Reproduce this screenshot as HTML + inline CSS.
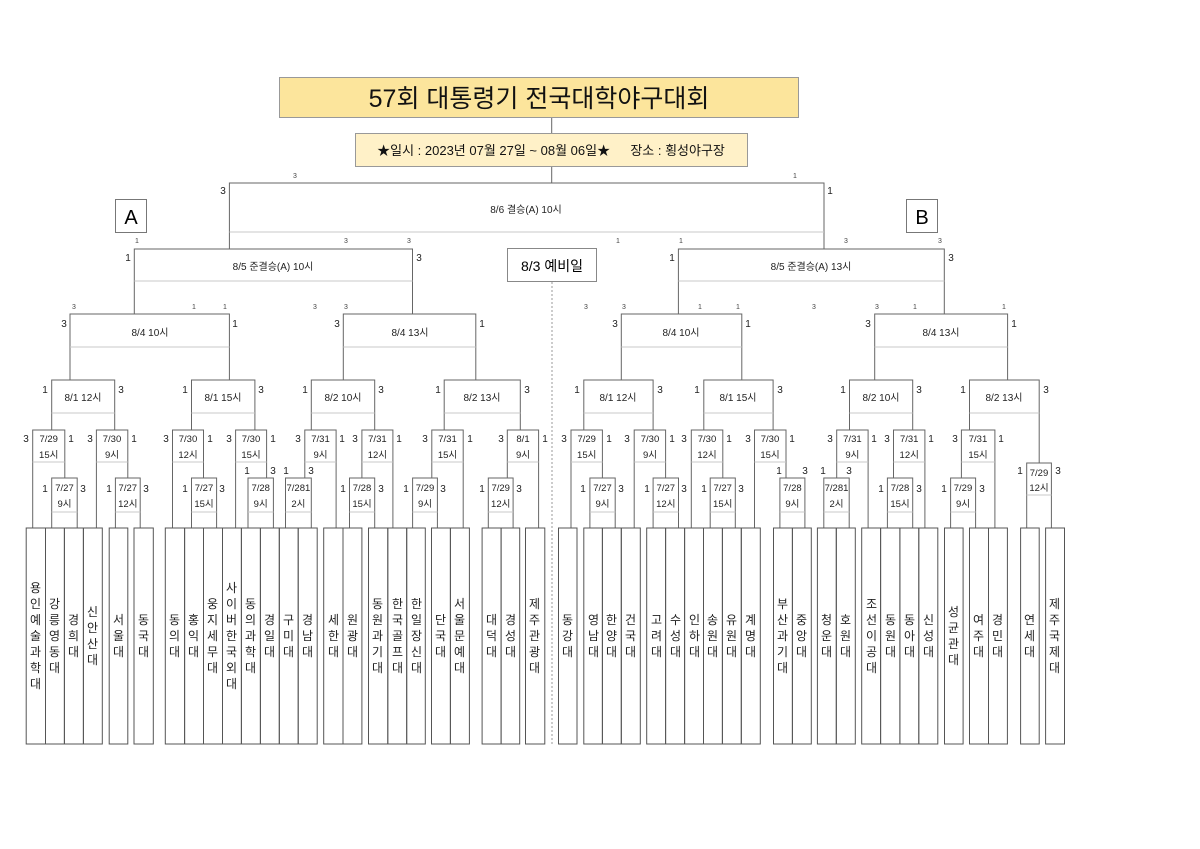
<!DOCTYPE html>
<html><head><meta charset="utf-8"><style>
html,body{margin:0;padding:0;background:#fff;}
#w{position:relative;width:1200px;height:849px;overflow:hidden;font-family:"Liberation Sans","Noto Sans CJK KR",sans-serif;}
svg{position:absolute;left:0;top:0;}
.t{position:absolute;top:528px;height:216px;display:flex;align-items:center;justify-content:center;text-align:center;font-size:12px;line-height:16px;color:#222;font-family:"Liberation Sans","Noto Sans CJK KR",sans-serif;}
</style></head><body><div id="w">
<svg width="1200" height="849" font-family="Liberation Sans, Noto Sans CJK KR, sans-serif">
<g fill="none" stroke="#666" stroke-width="1">
<line x1="551.7" y1="117" x2="551.7" y2="133"/><line x1="551.7" y1="167" x2="551.7" y2="183"/>
<!-- final -->
<path d="M229.4 249V183H824V249"/>
<path d="M134.3 314V249H412.5V314"/><path d="M678.4 314V249H944.3V314"/>
<path d="M70 380V314H229.4V380"/><path d="M343.3 380V314H475.8V380"/><path d="M621.3 380V314H741.8V380"/><path d="M874.7 380V314H1007.6V380"/>
<path d="M51.7 430V380H114.7V430"/><path d="M191.5 430V380H254.9V430"/><path d="M311.3 430V380H374.7V430"/><path d="M444.2 430V380H520.3V430"/>
<path d="M583.8 430V380H653.1V430"/><path d="M703.8 430V380H773.1V430"/><path d="M849.5 430V380H912.7V430"/><path d="M969.5 430V380H1039.2V463"/>
<!-- L4 -->
<path d="M32.7 528V430H64.8V478"/><path d="M96.4 528V430H127.8V478"/><path d="M172.5 528V430H203.5V478"/><path d="M235.6 528V430H266.6V478"/>
<path d="M304.8 478V430H336.1V528"/><path d="M361.9 478V430H392.9V528"/><path d="M431.8 478V430H463.2V528"/><path d="M507.3 478V430H538.6V528"/>
<path d="M571 528V430H602.4V478"/><path d="M634.2 528V430H665.6V478"/><path d="M691.3 528V430H722.8V478"/><path d="M754.5 528V430H786V478"/>
<path d="M836.7 478V430H868.1V528"/><path d="M893.5 478V430H924.9V528"/><path d="M961.4 478V430H994.9V528"/>
<!-- L5 -->
<path d="M51.7 528V478H77.2V528"/><path d="M115.4 528V478H140.2V528"/><path d="M191.5 528V478H216.6V528"/><path d="M248 528V478H273.4V528"/>
<path d="M285.5 528V478H311.3V528"/><path d="M349.5 528V478H374.7V528"/><path d="M412.6 528V478H437.4V528"/><path d="M488.3 528V478H513.1V528"/>
<path d="M589.9 528V478H615.2V528"/><path d="M653.1 528V478H678.5V528"/><path d="M710.2 528V478H735.3V528"/><path d="M779.9 528V478H804.9V528"/>
<path d="M823.8 528V478H849.2V528"/><path d="M887.4 528V478H912.7V528"/><path d="M950.6 528V478H975.6V528"/>
<path d="M1026.7 528V463H1051.4V528"/>
</g>
<g stroke="#c8c8c8" stroke-width="1">
<line x1="229.4" y1="232" x2="824" y2="232"/>
<line x1="134.3" y1="281" x2="412.5" y2="281"/><line x1="678.4" y1="281" x2="944.3" y2="281"/>
<line x1="70" y1="347" x2="229.4" y2="347"/><line x1="343.3" y1="347" x2="475.8" y2="347"/><line x1="621.3" y1="347" x2="741.8" y2="347"/><line x1="874.7" y1="347" x2="1007.6" y2="347"/>
<line x1="51.7" y1="413" x2="114.7" y2="413"/><line x1="191.5" y1="413" x2="254.9" y2="413"/><line x1="311.3" y1="413" x2="374.7" y2="413"/><line x1="444.2" y1="413" x2="520.3" y2="413"/>
<line x1="583.8" y1="413" x2="653.1" y2="413"/><line x1="703.8" y1="413" x2="773.1" y2="413"/><line x1="849.5" y1="413" x2="912.7" y2="413"/><line x1="969.5" y1="413" x2="1039.2" y2="413"/>
<line x1="32.7" y1="462" x2="64.8" y2="462"/><line x1="96.4" y1="462" x2="127.8" y2="462"/><line x1="172.5" y1="462" x2="203.5" y2="462"/><line x1="235.6" y1="462" x2="266.6" y2="462"/>
<line x1="304.8" y1="462" x2="336.1" y2="462"/><line x1="361.9" y1="462" x2="392.9" y2="462"/><line x1="431.8" y1="462" x2="463.2" y2="462"/><line x1="507.3" y1="462" x2="538.6" y2="462"/>
<line x1="571" y1="462" x2="602.4" y2="462"/><line x1="634.2" y1="462" x2="665.6" y2="462"/><line x1="691.3" y1="462" x2="722.8" y2="462"/><line x1="754.5" y1="462" x2="786" y2="462"/>
<line x1="836.7" y1="462" x2="868.1" y2="462"/><line x1="893.5" y1="462" x2="924.9" y2="462"/><line x1="961.4" y1="462" x2="994.9" y2="462"/>
<line x1="51.7" y1="512" x2="77.2" y2="512"/><line x1="115.4" y1="512" x2="140.2" y2="512"/><line x1="191.5" y1="512" x2="216.6" y2="512"/><line x1="248" y1="512" x2="273.4" y2="512"/>
<line x1="285.5" y1="512" x2="311.3" y2="512"/><line x1="349.5" y1="512" x2="374.7" y2="512"/><line x1="412.6" y1="512" x2="437.4" y2="512"/><line x1="488.3" y1="512" x2="513.1" y2="512"/>
<line x1="589.9" y1="512" x2="615.2" y2="512"/><line x1="653.1" y1="512" x2="678.5" y2="512"/><line x1="710.2" y1="512" x2="735.3" y2="512"/><line x1="779.9" y1="512" x2="804.9" y2="512"/>
<line x1="823.8" y1="512" x2="849.2" y2="512"/><line x1="887.4" y1="512" x2="912.7" y2="512"/><line x1="950.6" y1="512" x2="975.6" y2="512"/>
<line x1="1026.7" y1="495" x2="1051.4" y2="495"/>
</g>
<line x1="552" y1="282" x2="552" y2="745" stroke="#999" stroke-dasharray="2,2"/>
<!-- title -->
<rect x="279.5" y="77.5" width="519" height="40" fill="#fce59c" stroke="#999"/>
<text x="539" y="107" font-size="25" text-anchor="middle" fill="#111">57회 대통령기 전국대학야구대회</text>
<rect x="355.5" y="133.5" width="392" height="33" fill="#fff1c8" stroke="#999"/>
<text x="551" y="155" font-size="13" text-anchor="middle" fill="#111">★일시 : 2023년 07월 27일 ~ 08월 06일★ 　 장소 : 횡성야구장</text>
<rect x="115.5" y="199.5" width="31" height="33" fill="#fff" stroke="#777"/>
<text x="131" y="224" font-size="20" text-anchor="middle">A</text>
<rect x="906.5" y="199.5" width="31" height="33" fill="#fff" stroke="#777"/>
<text x="922" y="224" font-size="20" text-anchor="middle">B</text>
<rect x="507.5" y="248.5" width="89" height="33" fill="#fff" stroke="#888"/>
<text x="552" y="271" font-size="14" text-anchor="middle">8/3 예비일</text>
<g font-size="10" text-anchor="middle" fill="#222">
<text x="526" y="213">8/6 결승(A) 10시</text>
<text x="273" y="270">8/5 준결승(A) 10시</text><text x="811" y="270">8/5 준결승(A) 13시</text>
<text x="150" y="336">8/4 10시</text><text x="410" y="336">8/4 13시</text><text x="681" y="336">8/4 10시</text><text x="941" y="336">8/4 13시</text>
<text x="83" y="401">8/1  12시</text><text x="223" y="401">8/1 15시</text><text x="343" y="401">8/2 10시</text><text x="482" y="401">8/2 13시</text>
<text x="618" y="401">8/1 12시</text><text x="738" y="401">8/1  15시</text><text x="881" y="401">8/2 10시</text><text x="1004" y="401">8/2 13시</text>
</g>
<g font-size="9.5" text-anchor="middle" fill="#222">
<text x="48.7" y="442">7/29</text><text x="48.7" y="458">15시</text>
<text x="112" y="442">7/30</text><text x="112" y="458">9시</text>
<text x="188" y="442">7/30</text><text x="188" y="458">12시</text>
<text x="251" y="442">7/30</text><text x="251" y="458">15시</text>
<text x="320.5" y="442">7/31</text><text x="320.5" y="458">9시</text>
<text x="377.4" y="442">7/31</text><text x="377.4" y="458">12시</text>
<text x="447.5" y="442">7/31</text><text x="447.5" y="458">15시</text>
<text x="523" y="442">8/1</text><text x="523" y="458">9시</text>
<text x="586.7" y="442">7/29</text><text x="586.7" y="458">15시</text>
<text x="650" y="442">7/30</text><text x="650" y="458">9시</text>
<text x="707" y="442">7/30</text><text x="707" y="458">12시</text>
<text x="770" y="442">7/30</text><text x="770" y="458">15시</text>
<text x="852.4" y="442">7/31</text><text x="852.4" y="458">9시</text>
<text x="909.2" y="442">7/31</text><text x="909.2" y="458">12시</text>
<text x="978" y="442">7/31</text><text x="978" y="458">15시</text>
<text x="64.5" y="491">7/27</text><text x="64.5" y="507">9시</text>
<text x="127.8" y="491">7/27</text><text x="127.8" y="507">12시</text>
<text x="204" y="491">7/27</text><text x="204" y="507">15시</text>
<text x="260.7" y="491">7/28</text><text x="260.7" y="507">9시</text>
<text x="298.4" y="491">7/281</text><text x="298.4" y="507">2시</text>
<text x="362" y="491">7/28</text><text x="362" y="507">15시</text>
<text x="425" y="491">7/29</text><text x="425" y="507">9시</text>
<text x="500.7" y="491">7/29</text><text x="500.7" y="507">12시</text>
<text x="602.5" y="491">7/27</text><text x="602.5" y="507">9시</text>
<text x="665.8" y="491">7/27</text><text x="665.8" y="507">12시</text>
<text x="722.7" y="491">7/27</text><text x="722.7" y="507">15시</text>
<text x="792.4" y="491">7/28</text><text x="792.4" y="507">9시</text>
<text x="836.5" y="491">7/281</text><text x="836.5" y="507">2시</text>
<text x="900" y="491">7/28</text><text x="900" y="507">15시</text>
<text x="963" y="491">7/29</text><text x="963" y="507">9시</text>
<text x="1039" y="476">7/29</text><text x="1039" y="491">12시</text>
</g>
<!-- scores -->
<g font-size="10" text-anchor="middle" fill="#222">
<text x="223" y="194">3</text><text x="830" y="194">1</text>
<text x="128" y="261">1</text><text x="419" y="261">3</text><text x="672" y="261">1</text><text x="951" y="261">3</text>
<text x="64" y="327">3</text><text x="235" y="327">1</text><text x="337" y="327">3</text><text x="482" y="327">1</text>
<text x="615" y="327">3</text><text x="748" y="327">1</text><text x="868" y="327">3</text><text x="1014" y="327">1</text>
<text x="45" y="393">1</text><text x="121" y="393">3</text><text x="185" y="393">1</text><text x="261" y="393">3</text>
<text x="305" y="393">1</text><text x="381" y="393">3</text><text x="438" y="393">1</text><text x="527" y="393">3</text>
<text x="577" y="393">1</text><text x="660" y="393">3</text><text x="697" y="393">1</text><text x="780" y="393">3</text>
<text x="843" y="393">1</text><text x="919" y="393">3</text><text x="963" y="393">1</text><text x="1046" y="393">3</text>
<text x="26" y="442">3</text><text x="71" y="442">1</text><text x="90" y="442">3</text><text x="134" y="442">1</text>
<text x="166" y="442">3</text><text x="210" y="442">1</text><text x="229" y="442">3</text><text x="273" y="442">1</text>
<text x="298" y="442">3</text><text x="342" y="442">1</text><text x="355" y="442">3</text><text x="399" y="442">1</text>
<text x="425" y="442">3</text><text x="470" y="442">1</text><text x="501" y="442">3</text><text x="545" y="442">1</text>
<text x="564" y="442">3</text><text x="609" y="442">1</text><text x="627" y="442">3</text><text x="672" y="442">1</text>
<text x="684" y="442">3</text><text x="729" y="442">1</text><text x="748" y="442">3</text><text x="792" y="442">1</text>
<text x="830" y="442">3</text><text x="874" y="442">1</text><text x="887" y="442">3</text><text x="931" y="442">1</text>
<text x="955" y="442">3</text><text x="1001" y="442">1</text>
<text x="45" y="492">1</text><text x="83" y="492">3</text><text x="109" y="492">1</text><text x="146" y="492">3</text>
<text x="185" y="492">1</text><text x="222" y="492">3</text><text x="343" y="492">1</text><text x="381" y="492">3</text>
<text x="406" y="492">1</text><text x="443" y="492">3</text><text x="482" y="492">1</text><text x="519" y="492">3</text>
<text x="583" y="492">1</text><text x="621" y="492">3</text><text x="647" y="492">1</text><text x="684" y="492">3</text>
<text x="704" y="492">1</text><text x="741" y="492">3</text><text x="881" y="492">1</text><text x="919" y="492">3</text>
<text x="944" y="492">1</text><text x="982" y="492">3</text>
<text x="247" y="474">1</text><text x="273" y="474">3</text><text x="286" y="474">1</text><text x="311" y="474">3</text>
<text x="779" y="474">1</text><text x="805" y="474">3</text><text x="823" y="474">1</text><text x="849" y="474">3</text>
<text x="1020" y="474">1</text><text x="1058" y="474">3</text>
</g>
<g font-size="7" text-anchor="middle" fill="#444">
<text x="295" y="178">3</text><text x="795" y="178">1</text>
<text x="137" y="243">1</text><text x="346" y="243">3</text><text x="409" y="243">3</text>
<text x="618" y="243">1</text><text x="681" y="243">1</text><text x="846" y="243">3</text><text x="940" y="243">3</text>
<text x="74" y="309">3</text><text x="194" y="309">1</text><text x="225" y="309">1</text><text x="315" y="309">3</text><text x="346" y="309">3</text>
<text x="586" y="309">3</text><text x="624" y="309">3</text><text x="700" y="309">1</text><text x="738" y="309">1</text>
<text x="814" y="309">3</text><text x="877" y="309">3</text><text x="915" y="309">1</text><text x="1004" y="309">1</text>
</g>
<!-- team columns -->
<g fill="none" stroke="#555">
<rect x="26.2" y="528" width="19.3" height="216"/><rect x="45.5" y="528" width="18.9" height="216"/><rect x="64.4" y="528" width="19" height="216"/><rect x="83.4" y="528" width="18.9" height="216"/>
<rect x="109.2" y="528" width="18.6" height="216"/><rect x="134" y="528" width="19.3" height="216"/>
<rect x="165.3" y="528" width="19.3" height="216"/><rect x="184.6" y="528" width="18.9" height="216"/><rect x="203.5" y="528" width="19" height="216"/><rect x="222.5" y="528" width="18.9" height="216"/><rect x="241.4" y="528" width="19" height="216"/><rect x="260.4" y="528" width="18.9" height="216"/><rect x="279.3" y="528" width="18.9" height="216"/><rect x="298.2" y="528" width="19" height="216"/>
<rect x="323.7" y="528" width="19.3" height="216"/><rect x="343" y="528" width="18.9" height="216"/>
<rect x="368.5" y="528" width="19.3" height="216"/><rect x="387.8" y="528" width="18.9" height="216"/><rect x="406.7" y="528" width="18.6" height="216"/>
<rect x="431.5" y="528" width="18.9" height="216"/><rect x="450.4" y="528" width="19" height="216"/>
<rect x="482.1" y="528" width="19" height="216"/><rect x="501.1" y="528" width="18.6" height="216"/><rect x="525.5" y="528" width="19.3" height="216"/>
<rect x="558.5" y="528" width="18.5" height="216"/>
<rect x="583.8" y="528" width="18.6" height="216"/><rect x="602.4" y="528" width="18.9" height="216"/><rect x="621.3" y="528" width="19" height="216"/>
<rect x="646.7" y="528" width="18.9" height="216"/><rect x="665.6" y="528" width="19" height="216"/><rect x="684.6" y="528" width="18.9" height="216"/><rect x="703.5" y="528" width="18.9" height="216"/><rect x="722.4" y="528" width="18.9" height="216"/><rect x="741.3" y="528" width="19" height="216"/>
<rect x="773.5" y="528" width="18.9" height="216"/><rect x="792.4" y="528" width="18.9" height="216"/>
<rect x="817.4" y="528" width="18.9" height="216"/><rect x="836.3" y="528" width="19" height="216"/>
<rect x="861.7" y="528" width="18.9" height="216"/><rect x="880.6" y="528" width="19.3" height="216"/><rect x="899.9" y="528" width="18.9" height="216"/><rect x="918.8" y="528" width="19" height="216"/>
<rect x="944.5" y="528" width="18.6" height="216"/>
<rect x="969.5" y="528" width="19" height="216"/><rect x="988.5" y="528" width="18.9" height="216"/>
<rect x="1020.6" y="528" width="18.6" height="216"/><rect x="1045.6" y="528" width="18.9" height="216"/>
</g>
</svg>
<div class="t" style="left:26px;width:19px">용<br>인<br>예<br>술<br>과<br>학<br>대</div>
<div class="t" style="left:45px;width:19px">강<br>릉<br>영<br>동<br>대</div>
<div class="t" style="left:64px;width:19px">경<br>희<br>대</div>
<div class="t" style="left:83px;width:19px">신<br>안<br>산<br>대</div>
<div class="t" style="left:109px;width:19px">서<br>울<br>대</div>
<div class="t" style="left:134px;width:19px">동<br>국<br>대</div>
<div class="t" style="left:165px;width:19px">동<br>의<br>대</div>
<div class="t" style="left:184px;width:19px">홍<br>익<br>대</div>
<div class="t" style="left:203px;width:19px">웅<br>지<br>세<br>무<br>대</div>
<div class="t" style="left:222px;width:19px">사<br>이<br>버<br>한<br>국<br>외<br>대</div>
<div class="t" style="left:241px;width:19px">동<br>의<br>과<br>학<br>대</div>
<div class="t" style="left:260px;width:19px">경<br>일<br>대</div>
<div class="t" style="left:279px;width:19px">구<br>미<br>대</div>
<div class="t" style="left:298px;width:19px">경<br>남<br>대</div>
<div class="t" style="left:324px;width:19px">세<br>한<br>대</div>
<div class="t" style="left:343px;width:19px">원<br>광<br>대</div>
<div class="t" style="left:368px;width:19px">동<br>원<br>과<br>기<br>대</div>
<div class="t" style="left:388px;width:19px">한<br>국<br>골<br>프<br>대</div>
<div class="t" style="left:407px;width:19px">한<br>일<br>장<br>신<br>대</div>
<div class="t" style="left:431px;width:19px">단<br>국<br>대</div>
<div class="t" style="left:450px;width:19px">서<br>울<br>문<br>예<br>대</div>
<div class="t" style="left:482px;width:19px">대<br>덕<br>대</div>
<div class="t" style="left:501px;width:19px">경<br>성<br>대</div>
<div class="t" style="left:525px;width:19px">제<br>주<br>관<br>광<br>대</div>
<div class="t" style="left:558px;width:19px">동<br>강<br>대</div>
<div class="t" style="left:584px;width:19px">영<br>남<br>대</div>
<div class="t" style="left:602px;width:19px">한<br>양<br>대</div>
<div class="t" style="left:621px;width:19px">건<br>국<br>대</div>
<div class="t" style="left:647px;width:19px">고<br>려<br>대</div>
<div class="t" style="left:666px;width:19px">수<br>성<br>대</div>
<div class="t" style="left:685px;width:19px">인<br>하<br>대</div>
<div class="t" style="left:703px;width:19px">송<br>원<br>대</div>
<div class="t" style="left:722px;width:19px">유<br>원<br>대</div>
<div class="t" style="left:741px;width:19px">계<br>명<br>대</div>
<div class="t" style="left:773px;width:19px">부<br>산<br>과<br>기<br>대</div>
<div class="t" style="left:792px;width:19px">중<br>앙<br>대</div>
<div class="t" style="left:817px;width:19px">청<br>운<br>대</div>
<div class="t" style="left:836px;width:19px">호<br>원<br>대</div>
<div class="t" style="left:862px;width:19px">조<br>선<br>이<br>공<br>대</div>
<div class="t" style="left:881px;width:19px">동<br>원<br>대</div>
<div class="t" style="left:900px;width:19px">동<br>아<br>대</div>
<div class="t" style="left:919px;width:19px">신<br>성<br>대</div>
<div class="t" style="left:944px;width:19px">성<br>균<br>관<br>대</div>
<div class="t" style="left:969px;width:19px">여<br>주<br>대</div>
<div class="t" style="left:988px;width:19px">경<br>민<br>대</div>
<div class="t" style="left:1020px;width:19px">연<br>세<br>대</div>
<div class="t" style="left:1045px;width:19px">제<br>주<br>국<br>제<br>대</div>
</div></body></html>
